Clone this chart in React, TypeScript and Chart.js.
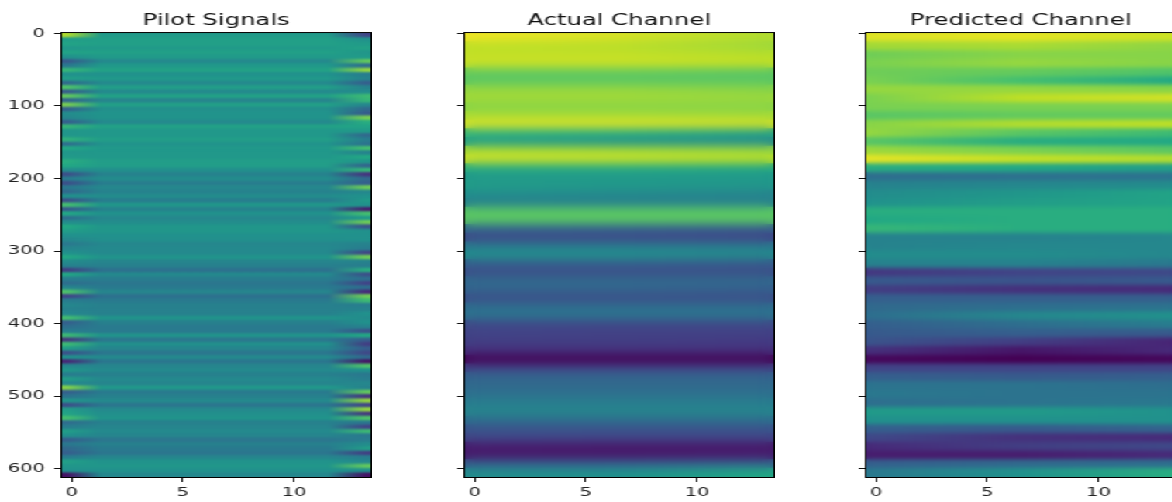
import React, { useEffect, useRef } from "react";
import { Chart, registerables } from "chart.js";

Chart.register(...registerables);

const panelTitles = ["Pilot Signals", "Actual Channel", "Predicted Channel"];
const yTickStep = 100;
const xTickStep = 5;
const rowCount = 612;

const pilotLeft = [.88,.55,.58,.53,.58,.5,.28,.4,.66,.5,.55,.34,.72,.28,.76,.32,.8,.3,.48,.46,.3,.66,.52,.52,.64,.36,.6,.52,.54,.62,.6,.48,.24,.42,.24,.4,.34,.5,.24,.7,.28,.6,.36,.48,.6,.55,.5,.46,.4,.45,.5,.6,.48,.44,.18,.6,.42,.36,.45,.72,.2,.42,.46,.44,.46,.7,.3,.36,.42,.68,.15,.68,.55,.25,.5,.1,.46,.52,.42,.55,.46,.82,.3,.38,.52,.24,.55,.58,.7,.35,.42,.55,.5,.3,.4,.34,.3,.42,.56,.52,.5,.05];
const pilotMid = [.54,.56,.56,.54,.56,.54,.47,.53,.57,.5,.53,.47,.55,.47,.57,.45,.56,.49,.51,.51,.47,.57,.53,.53,.55,.51,.53,.53,.53,.55,.55,.49,.44,.48,.42,.46,.44,.48,.42,.52,.44,.5,.46,.48,.52,.52,.5,.49,.46,.47,.47,.51,.45,.43,.37,.47,.42,.39,.41,.45,.37,.41,.43,.43,.43,.51,.43,.41,.41,.51,.39,.49,.45,.39,.47,.39,.45,.47,.43,.47,.45,.53,.41,.43,.47,.39,.47,.49,.51,.43,.45,.47,.45,.39,.43,.41,.39,.45,.51,.52,.5,.46];
const pilotRight = [.2,.5,.54,.57,.52,.54,.76,.35,.84,.42,.44,.3,.44,.48,.68,.66,.46,.34,.28,.8,.62,.58,.54,.34,.42,.38,.7,.44,.6,.52,.32,.66,.15,.34,.3,.78,.46,.5,.54,.5,.08,.7,.54,.78,.25,.5,.5,.5,.44,.42,.2,.78,.44,.42,.62,.24,.36,.2,.36,.12,.78,.68,.42,.44,.5,.48,.5,.44,.25,.6,.3,.18,.3,.22,.34,.05,.72,.5,.4,.42,.46,.44,.76,.15,.84,.2,.84,.15,.72,.4,.2,.68,.4,.42,.48,.55,.18,.42,.46,.76,.5,.05];

const actualLeft = [.98,.9,.91,.92,.76,.74,.84,.86,.82,.87,.95,.66,.55,.87,.93,.62,.53,.55,.49,.43,.74,.74,.34,.22,.4,.5,.3,.24,.34,.32,.24,.36,.38,.22,.2,.18,.14,.0,.2,.32,.34,.37,.42,.45,.36,.26,.22,.08,.07,.3,.48];
const actualMid = [.94,.89,.91,.92,.76,.74,.84,.86,.82,.87,.95,.64,.5,.86,.92,.62,.53,.54,.47,.43,.74,.74,.32,.22,.4,.5,.3,.24,.34,.32,.24,.36,.38,.22,.19,.18,.14,.0,.2,.32,.34,.37,.42,.45,.36,.26,.21,.07,.07,.3,.5];
const actualRight = [.88,.85,.89,.91,.74,.74,.82,.85,.82,.86,.94,.58,.47,.84,.9,.6,.53,.53,.45,.43,.74,.74,.3,.2,.4,.48,.28,.24,.34,.3,.24,.36,.38,.22,.19,.17,.14,.0,.2,.32,.34,.37,.42,.45,.36,.26,.21,.07,.08,.32,.6];

const predictedLeft = [.95,.86,.78,.8,.78,.8,.84,.8,.8,.74,.82,.84,.74,.85,.96,.62,.36,.44,.48,.5,.62,.6,.66,.44,.44,.48,.44,.16,.28,.18,.3,.34,.36,.3,.28,.26,.14,.02,.2,.3,.38,.4,.36,.54,.5,.3,.22,.12,.08,.3,.4];
const predictedMid = [.96,.87,.82,.84,.76,.7,.84,.9,.8,.76,.88,.74,.62,.8,.91,.6,.37,.46,.52,.55,.62,.62,.62,.44,.46,.48,.44,.2,.26,.14,.3,.36,.46,.36,.3,.18,.06,.0,.2,.28,.38,.38,.38,.54,.5,.28,.14,.18,.08,.34,.5];
const predictedRight = [.92,.83,.82,.82,.72,.6,.82,.93,.8,.76,.9,.68,.6,.74,.88,.55,.38,.48,.58,.58,.62,.62,.62,.46,.46,.46,.4,.22,.28,.12,.3,.38,.5,.42,.28,.1,.12,.02,.2,.3,.36,.38,.4,.5,.5,.32,.12,.22,.12,.36,.62];

const viridis = [[68,1,84],[72,36,117],[65,68,135],[53,95,141],[42,120,142],[33,145,140],[34,168,132],[68,191,112],[122,209,81],[189,223,38],[253,231,37]];

function colour(v: number) {
  const p = Math.max(0, Math.min(1, v)) * (viridis.length - 1);
  const i = Math.min(viridis.length - 2, Math.floor(p));
  const f = p - i;
  const c = viridis[i].map((a, k) => Math.round(a + (viridis[i + 1][k] - a) * f));
  return `rgb(${c[0]},${c[1]},${c[2]})`;
}

const SX = 1.55;
const FONT = "'DejaVu Sans', sans-serif";
const panelLefts = [61 / SX - 39.5, 464 / SX - 39.5, 865 / SX - 39.5];
const PANEL_W = 201;
const CANVAS_W = 39 + PANEL_W;

const boxAndBlur = (radius: number) => ({
  id: "boxAndBlur",
  afterDatasetsDraw(chart: any) {
    const { ctx, chartArea: a, canvas } = chart;
    ctx.save();
    ctx.beginPath();
    ctx.rect(a.left, a.top, a.width, a.height);
    ctx.clip();
    ctx.filter = `blur(${radius}px)`;
    ctx.drawImage(canvas, a.left, a.top, a.width, a.height, a.left, a.top, a.width, a.height);
    ctx.restore();
    ctx.save();
    ctx.strokeStyle = "#000";
    ctx.lineWidth = 1;
    ctx.strokeRect(a.left + 0.5, a.top - 0.5, a.width - 1, a.height + 1);
    ctx.restore();
  },
});

function Panel({ index, left, mid, right, stops, blur }: any) {
  const ref = useRef<HTMLCanvasElement>(null);
  useEffect(() => {
    const step = rowCount / left.length;
    const data = left.map((_: number, i: number) => ({ x: [-0.5, 13.5], y: (i + 0.5) * step - 0.5 }));
    const chart = new Chart(ref.current!, {
      type: "bar",
      data: {
        datasets: [{
          data,
          borderWidth: 0,
          barPercentage: 1.1,
          categoryPercentage: 1,
          backgroundColor: (c: any) => {
            const sc = c.chart.scales.x;
            const i = c.dataIndex;
            if (!sc || i === undefined) return "#000";
            const x0 = sc.getPixelForValue(-0.5);
            const x1 = sc.getPixelForValue(13.5);
            if (!Number.isFinite(x0) || !Number.isFinite(x1)) return colour(mid[i]);
            const g = c.chart.ctx.createLinearGradient(x0, 0, x1, 0);
            const vals = [left[i], mid[i], right[i]];
            stops.forEach((s: [number, number]) => g.addColorStop(s[0], colour(vals[s[1]])));
            return g;
          },
        } as any],
      },
      options: {
        indexAxis: "y",
        responsive: false,
        animation: false,
        events: [],
        layout: { padding: 0 },
        plugins: {
          legend: { display: false },
          tooltip: { enabled: false },
          title: {
            display: true,
            text: panelTitles[index],
            fullSize: false,
            color: "#111",
            font: { family: FONT, size: 15.7, weight: "normal" },
            padding: { top: 12, bottom: 2.2 },
          },
        },
        scales: {
          x: {
            type: "linear",
            min: -0.5,
            max: 13.5,
            offset: false,
            grid: { display: true, drawOnChartArea: false, drawTicks: true, tickLength: 5, color: "#111", offset: false },
            border: { display: false },
            ticks: { stepSize: xTickStep, includeBounds: false, color: "#222", font: { family: FONT, size: 12.6 }, padding: 3, maxRotation: 0, autoSkip: false },
            afterFit: (s: any) => { s.height = 25; },
          },
          y: {
            type: "linear",
            reverse: true,
            min: -0.5,
            max: rowCount - 0.5,
            offset: false,
            beginAtZero: false,
            grid: { display: true, drawOnChartArea: false, drawTicks: true, tickLength: 4, color: "#111", offset: false },
            border: { display: false },
            ticks: { display: index === 0, stepSize: yTickStep, includeBounds: false, color: "#222", font: { family: FONT, size: 12.6 }, padding: 6, autoSkip: false },
            afterFit: (s: any) => { s.width = 39; },
          },
        },
      } as any,
      plugins: [boxAndBlur(blur)],
    });
    return () => chart.destroy();
  }, []);
  return (
    <canvas
      ref={ref}
      width={CANVAS_W}
      height={502}
      style={{ position: "absolute", left: panelLefts[index], top: 0 }}
    />
  );
}

export default function App() {
  const pilotStops = [[0, 0], [0.02, 0], [0.13, 1], [0.86, 1], [0.98, 2], [1, 2]];
  const smoothStops = [[0, 0], [0.5, 1], [1, 2]];
  return (
    <div style={{ position: "fixed", left: 0, top: 0, width: 1172, height: 502, overflow: "hidden", background: "#fff" }}>
      <div style={{ position: "absolute", left: 0, top: 0, width: 760, height: 502, transformOrigin: "0 0", transform: `scale(${SX},1)` }}>
        <Panel index={0} left={pilotLeft} mid={pilotMid} right={pilotRight} stops={pilotStops} blur={1} />
        <Panel index={1} left={actualLeft} mid={actualMid} right={actualRight} stops={smoothStops} blur={5} />
        <Panel index={2} left={predictedLeft} mid={predictedMid} right={predictedRight} stops={smoothStops} blur={2.2} />
      </div>
    </div>
  );
}
